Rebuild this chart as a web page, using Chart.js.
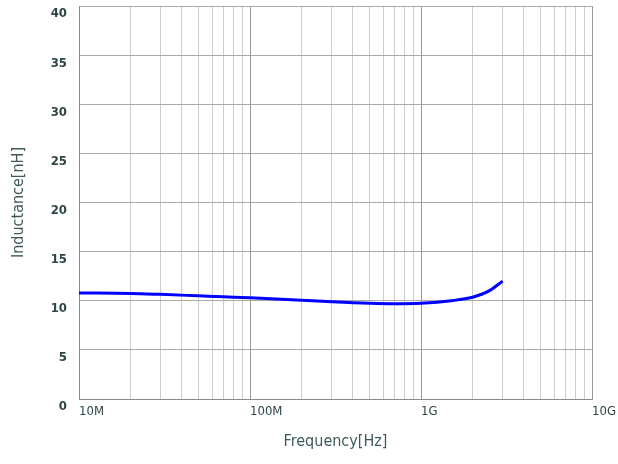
<!DOCTYPE html>
<html>
<head>
<meta charset="utf-8">
<script src="https://cdn.jsdelivr.net/npm/chart.js@4"></script>
<style>
  html, body { margin: 0; padding: 0; background: #fff; }
  #wrap { width: 618px; height: 464px; }
</style>
</head>
<body>
<div id="wrap"><canvas id="chart"></canvas></div>
<script>
// frequency in Hz, inductance in nH
const freqs = [1e7, 2e7, 3e7, 5e7, 7e7, 1e8, 2e8, 3e8, 5e8, 7e8, 1e9, 1.5e9, 2e9, 2.5e9, 3e9];
const inductance = [10.8, 10.75, 10.65, 10.5, 10.4, 10.3, 10.05, 9.9, 9.75, 9.7, 9.75, 10.0, 10.35, 11.0, 12.0];
const decadeLabels = { 1e7: '10M', 1e8: '100M', 1e9: '1G', 1e10: '10G' };

const points = freqs.map((f, i) => ({ x: f, y: inductance[i] }));

const minorTicks = [];
for (let e = 7; e < 10; e++) {
    for (let m = 1; m < 10; m++) minorTicks.push({ value: m * Math.pow(10, e) });
}
minorTicks.push({ value: 1e10 });

const isDecade = v => decadeLabels[v] !== undefined;

new Chart(document.getElementById('chart').getContext('2d'), {
    type: 'line',
    data: {
        datasets: [{
            data: points,
            borderColor: '#0000ff',
            borderWidth: 3,
            pointRadius: 0,
            tension: 0.4,
            cubicInterpolationMode: 'monotone',
            fill: false
        }]
    },
    options: {
        responsive: true,
        maintainAspectRatio: false,
        animation: false,
        layout: { padding: { left: 0, right: 26, top: 6, bottom: 0 } },
        plugins: { legend: { display: false }, tooltip: { enabled: false } },
        scales: {
            x: {
                type: 'logarithmic',
                min: 1e7,
                max: 1e10,
                afterBuildTicks: scale => { scale.ticks = minorTicks.map(t => ({ value: t.value })); },
                afterFit: scale => {
                    scale.height = 65;
                    scale.paddingLeft = 0;
                    scale.paddingRight = 0;
                },
                grid: {
                    drawTicks: false,
                    color: ctx => (ctx.tick && isDecade(ctx.tick.value)) ? '#9a9a9a' : '#cccccc',
                    lineWidth: 1
                },
                border: { color: '#8a8a8a' },
                ticks: {
                    autoSkip: false,
                    maxRotation: 0,
                    align: 'start',
                    padding: 5,
                    color: '#2f4545',
                    font: { family: 'DejaVu Sans Condensed', size: 13 },
                    callback: v => decadeLabels[v] || ''
                },
                title: {
                    display: true,
                    text: 'Frequency[Hz]',
                    color: '#3d5a5a',
                    font: { family: 'DejaVu Sans Condensed', size: 16 },
                    padding: { top: 10, bottom: 13 }
                }
            },
            y: {
                min: 0,
                max: 40,
                afterFit: scale => {
                    scale.width = 79;
                    scale.paddingTop = 0;
                    scale.paddingBottom = 0;
                },
                grid: { drawTicks: false, color: '#aaaaaa' },
                border: { color: '#8a8a8a' },
                ticks: {
                    stepSize: 5,
                    padding: 12,
                    labelOffset: 8,
                    color: '#2f4545',
                    font: { family: 'DejaVu Sans Condensed', size: 13, weight: 'bold' }
                },
                title: {
                    display: true,
                    text: 'Inductance[nH]',
                    color: '#3d5a5a',
                    font: { family: 'DejaVu Sans Condensed', size: 16 },
                    padding: { top: 9, bottom: 0 }
                }
            }
        }
    }
});
</script>
</body>
</html>
